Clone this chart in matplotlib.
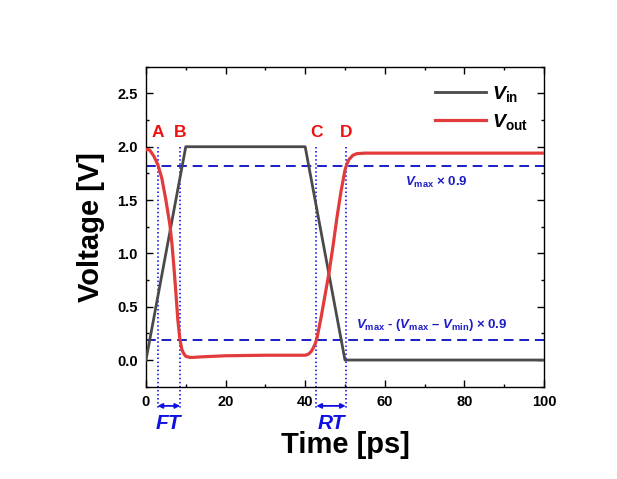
import numpy as np
import matplotlib.pyplot as plt

plt.rcParams['font.family'] = ['Liberation Sans', 'DejaVu Sans']
plt.rcParams['font.weight'] = 'bold'
plt.rcParams['mathtext.fontset'] = 'custom'
plt.rcParams['mathtext.rm'] = 'Liberation Sans:bold'
plt.rcParams['mathtext.it'] = 'Liberation Sans:italic:bold'
plt.rcParams['mathtext.bf'] = 'Liberation Sans:bold'

# input pulse
t_in = [0, 10, 40, 50, 100]
v_in = [0, 2.0, 2.0, 0, 0]

# output waveform
t_out = [0, 0.5, 1, 2, 3, 4, 5, 6, 6.5, 7, 7.5, 8, 8.5, 9, 9.5, 10, 11, 12, 14,
         20, 30, 40, 40.5, 41, 41.5, 42, 42.5, 43, 44, 45, 46, 47, 48, 49, 50,
         50.5, 51, 52, 53, 55, 60, 100]
v_out = [1.97, 1.975, 1.965, 1.91, 1.83, 1.70, 1.50, 1.27, 1.10, 0.88, 0.64, 0.38,
         0.20, 0.10, 0.06, 0.035, 0.025, 0.025, 0.03, 0.04, 0.045, 0.045, 0.05,
         0.06, 0.08, 0.11, 0.15, 0.21, 0.40, 0.61, 0.82, 1.07, 1.34, 1.58, 1.78,
         1.84, 1.88, 1.92, 1.935, 1.94, 1.94, 1.94]

# thresholds and crossing times
levels = [1.82, 0.19]
mark_t = [2.9, 8.6, 42.8, 50.2]
mark_lbl = ['A', 'B', 'C', 'D']

blue = '#1c1cc8'
red = '#e23b3b'

fig = plt.figure(figsize=(6.17, 4.79), dpi=100)
ax = fig.add_axes([0.2366, 0.1927, 0.645, 0.668])

ax.plot(t_in, v_in, color='#4a4a4a', lw=2.0, label=r'$V_{\mathrm{in}}$', zorder=3)
ax.plot(t_out, v_out, color=red, lw=2.3, label=r'$V_{\mathrm{out}}$', zorder=4)

for lv in levels:
    ax.axhline(lv, color=blue, lw=1.4, ls=(0, (5, 3)), zorder=2)

for t, s in zip(mark_t, mark_lbl):
    ax.plot([t, t], [2.0, -0.46], color='#0000ee', lw=1.1, ls=':', clip_on=False, zorder=2)
    ax.text(t, 2.13, s, color='#ee1111', fontsize=12.5, fontweight='bold',
            ha='center', va='center')

ax.annotate('', xy=(mark_t[0], -0.43), xytext=(mark_t[1], -0.43),
            arrowprops=dict(arrowstyle='<|-|>', color='#1010e0', lw=1.3, mutation_scale=7,
                            shrinkA=0, shrinkB=0), annotation_clip=False)
ax.annotate('', xy=(mark_t[2], -0.43), xytext=(mark_t[3], -0.43),
            arrowprops=dict(arrowstyle='<|-|>', color='#1010e0', lw=1.3, mutation_scale=7,
                            shrinkA=0, shrinkB=0), annotation_clip=False)
ax.text((mark_t[0] + mark_t[1]) / 2, -0.595, 'FT', color='#1010e0', fontsize=15,
        fontweight='bold', style='italic', ha='center', va='center', clip_on=False)
ax.text((mark_t[2] + mark_t[3]) / 2, -0.595, 'RT', color='#1010e0', fontsize=15,
        fontweight='bold', style='italic', ha='center', va='center', clip_on=False)

ax.text(73.1, 1.665, r'$V_{\mathrm{max}}$ × 0.9', color=blue, fontsize=9.5,
        fontweight='bold', ha='center', va='center')
ax.text(71.9, 0.325, r'$V_{\mathrm{max}}$ - ($V_{\mathrm{max}}$ – $V_{\mathrm{min}}$) × 0.9',
        color=blue, fontsize=9.5, fontweight='bold', ha='center', va='center')

ax.set_xlim(0, 100)
ax.set_ylim(-0.25, 2.75)
ax.set_xticks([0, 20, 40, 60, 80, 100])
ax.set_xticks(np.arange(10, 100, 20), minor=True)
ax.set_yticks([0, 0.5, 1.0, 1.5, 2.0, 2.5])
ax.set_yticks(np.arange(-0.25, 2.76, 0.5), minor=True)
ax.set_yticklabels(['0.0', '0.5', '1.0', '1.5', '2.0', '2.5'])
ax.tick_params(which='both', direction='in', top=True, right=True, width=1.0)
ax.tick_params(which='major', length=5, pad=6, labelsize=10.5)
ax.tick_params(which='minor', length=2.5)
for lab in ax.get_xticklabels() + ax.get_yticklabels():
    lab.set_fontweight('bold')
for sp in ax.spines.values():
    sp.set_linewidth(1.0)

ax.set_xlabel('Time [ps]', fontsize=21, fontweight='bold', labelpad=16)
ax.set_ylabel('Voltage [V]', fontsize=21, fontweight='bold', labelpad=9)

ax.legend(loc='upper right', bbox_to_anchor=(0.995, 0.99), frameon=False, fontsize=14,
          handlelength=2.6, handletextpad=0.35, labelspacing=0.45, borderaxespad=0.3)

fig.savefig('out.png', dpi=100)
